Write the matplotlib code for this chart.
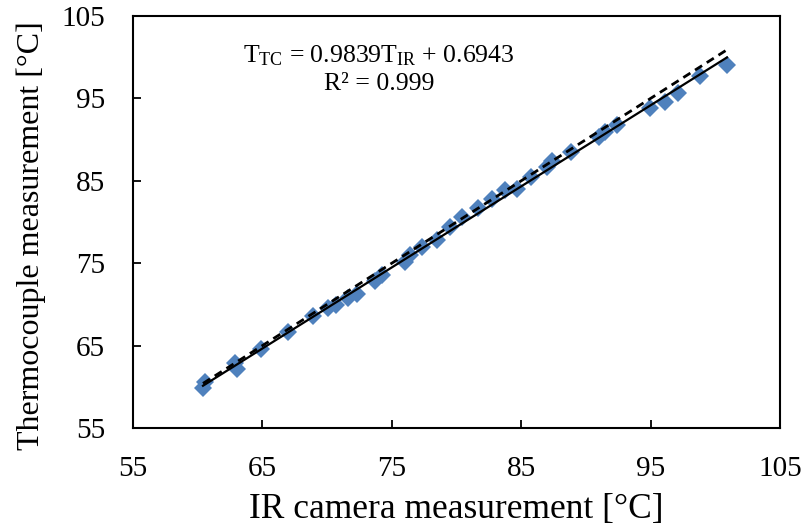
import numpy as np
import matplotlib
matplotlib.use("Agg")
import matplotlib.pyplot as plt

plt.rcParams['font.family'] = ['Liberation Serif', 'DejaVu Serif']
plt.rcParams['mathtext.fontset'] = 'custom'
plt.rcParams['mathtext.rm'] = 'Liberation Serif'
plt.rcParams['mathtext.it'] = 'Liberation Serif:italic'

# IR camera vs thermocouple readings (deg C)
ir_temp = [60.56, 60.41, 62.88, 63.04, 64.89, 66.98, 68.91, 70.07, 70.69,
           71.62, 72.31, 73.70, 74.24, 76.02, 76.41, 77.33, 78.49, 79.50,
           80.43, 81.66, 82.74, 83.75, 84.68, 85.76, 86.99, 87.38, 88.85,
           91.01, 91.48, 92.40, 94.95, 96.11, 97.12, 98.82, 100.90]
tc_temp = [60.58, 59.85, 62.89, 62.16, 64.59, 66.65, 68.59, 69.56, 69.93,
           70.78, 71.26, 72.84, 73.57, 75.15, 76.00, 76.97, 77.82, 79.39,
           80.61, 81.70, 82.79, 83.88, 84.00, 85.46, 86.67, 87.40, 88.50,
           90.32, 90.92, 91.77, 93.83, 94.56, 95.66, 97.72, 99.05]

slope = 0.9839
intercept = 0.6943
ticks = [55, 65, 75, 85, 95, 105]

fig = plt.figure(figsize=(8.05, 5.29), dpi=100)
ax = fig.add_axes([0.1652, 0.1909, 0.8038, 0.7789])

x = np.array(ir_temp)
xr = np.array([x.min(), x.max()])

ax.plot(x, tc_temp, 'D', color='#4F81BD', markersize=9.5, markeredgewidth=0, zorder=2)
ax.plot(xr, xr, '--', color='black', lw=2.0, dashes=(3, 2), zorder=3)
ax.plot(xr, slope * xr + intercept, '-', color='black', lw=1.6, zorder=3)

ax.set_xlim(55, 105)
ax.set_ylim(55, 105)
ax.set_xticks(ticks)
ax.set_yticks(ticks)
ax.tick_params(direction='in', length=6, width=1.3, labelsize=21, pad=20)
for s in ax.spines.values():
    s.set_linewidth(1.5)

ax.set_xlabel('IR camera measurement [°C]', fontsize=25.5, labelpad=8)
ax.set_ylabel('Thermocouple measurement [°C]', fontsize=23)
ax.yaxis.set_label_coords(-0.135, 0.466)

# trendline equation, as Excel placed it
ax.text(0.38, 0.903, r'T$_{\mathrm{TC}}$ = 0.9839T$_{\mathrm{IR}}$ + 0.6943',
        transform=ax.transAxes, ha='center', va='center', fontsize=18.5)
ax.text(0.38, 0.835, 'R² = 0.999',
        transform=ax.transAxes, ha='center', va='center', fontsize=18.5)

fig.savefig('out.png', dpi=100)
